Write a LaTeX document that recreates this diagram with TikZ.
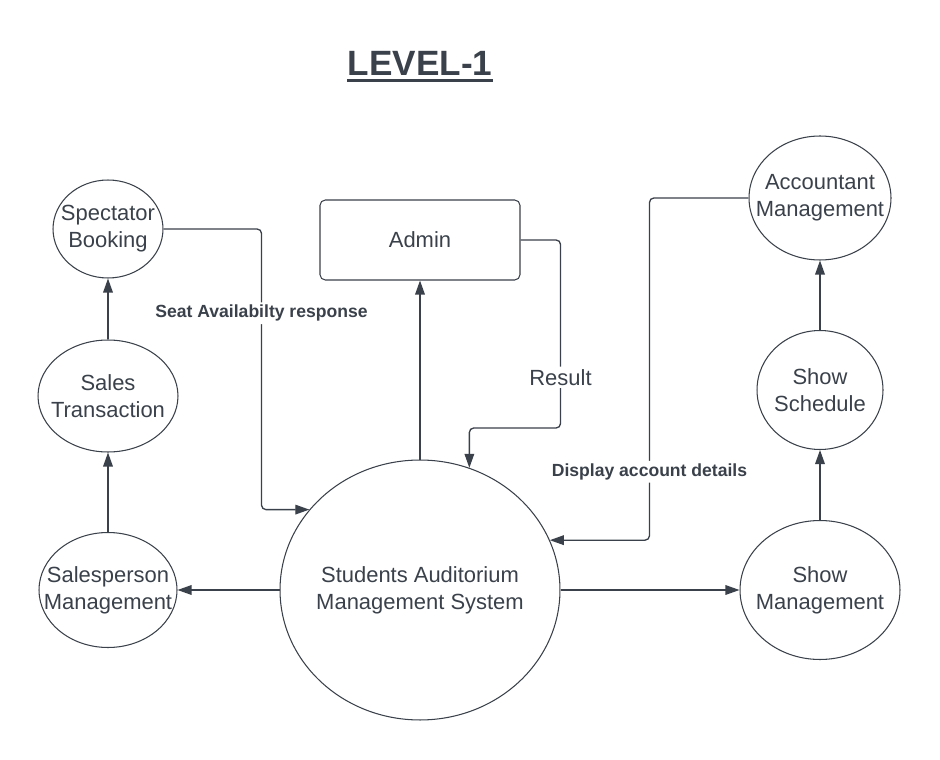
\documentclass[tikz,border=0pt]{standalone}
\usepackage{fontspec}
\setmainfont{Liberation Sans}
\usepackage{tikz}
\usetikzlibrary{arrows.meta,shapes,positioning}
\definecolor{grisOscuro}{RGB}{58, 65, 74}
\tikzstyle{edge}  =[draw=grisOscuro, line width=0.75pt,
                    -{Triangle[length=8pt,width=5.5pt]},
                    rounded corners=2.5pt]
\tikzstyle{proc}  =[ellipse, draw=grisOscuro, line width=0.6pt,
                    inner xsep=-25pt, inner ysep=-8pt, align=center,
                    text=grisOscuro, font=\fontsize{12.5}{15.4}\selectfont]
\tikzstyle{entidad}=[rectangle, rounded corners=3pt, draw=grisOscuro,
                    line width=0.6pt, minimum width=4cm, minimum height=1.6cm,
                    text=grisOscuro, font=\fontsize{12.5}{15.4}\selectfont]
\tikzstyle{etiqueta}=[fill=white, inner sep=1.5pt, text=grisOscuro,
                    font=\bfseries\fontsize{10}{12}\selectfont]
\tikzstyle{etiquetaN}=[fill=white, inner sep=1.5pt, text=grisOscuro,
                    font=\fontsize{12.5}{15}\selectfont]

\begin{document}
\begin{tikzpicture}[x=0.02cm,y=-0.02cm]
    \useasboundingbox (0,0) rectangle (940,760);

    % titulo
    \draw (420,76) node(titulo)[anchor=base, inner sep=0pt, text=grisOscuro,
        font=\bfseries\fontsize{20}{24}\selectfont]{LEVEL-1};
    \draw [grisOscuro, line width=1.7pt] ([yshift=-2.5pt]titulo.base west)
        -- ([yshift=-2.5pt]titulo.base east);

    % procesos izquierda
    \draw (108,229) node(spec)[proc, minimum width=2.2cm, minimum height=1.96cm]
        {Spectator\\Booking};
    \draw (108,396) node(stran)[proc, minimum width=2.8cm, minimum height=2.24cm]
        {Sales\\Transaction};
    \draw (108,590) node(sper)[proc, minimum width=2.76cm, minimum height=2.3cm]
        {Salesperson\\Management};

    % centro
    \draw (420,240) node(admin)[entidad]{Admin};
    \draw (420,590) node(main)[proc, minimum width=5.6cm, minimum height=5.2cm]
        {Students Auditorium\\Management System};

    % procesos derecha
    \draw (820,198) node(acct)[proc, minimum width=2.84cm, minimum height=2.48cm]
        {Accountant\\Management};
    \draw (820,390) node(sched)[proc, minimum width=2.52cm, minimum height=2.38cm]
        {Show\\Schedule};
    \draw (820,590) node(showm)[proc, minimum width=3.2cm, minimum height=2.78cm]
        {Show\\Management};

    % flujos
    \foreach \i/\j in {sper/stran, stran/spec, main/admin, main/sper,
        main/showm, showm/sched, sched/acct}
        \draw [edge] (\i) to (\j);

    \draw [edge] (spec.east) -- ++(98,0)
        |- node[etiqueta, pos=0.15]{Seat Availabilty response} (main.144);
    \draw [edge] (admin.east) -- ++(40,0)
        -- node[etiquetaN, pos=0.73]{Result} ++(0,188) -| (main.68.5);
    \draw [edge] (acct.west) -- ++(-99,0)
        |- node[etiqueta, pos=0.4]{Display account details} (main.21);

\end{tikzpicture}
\end{document}
